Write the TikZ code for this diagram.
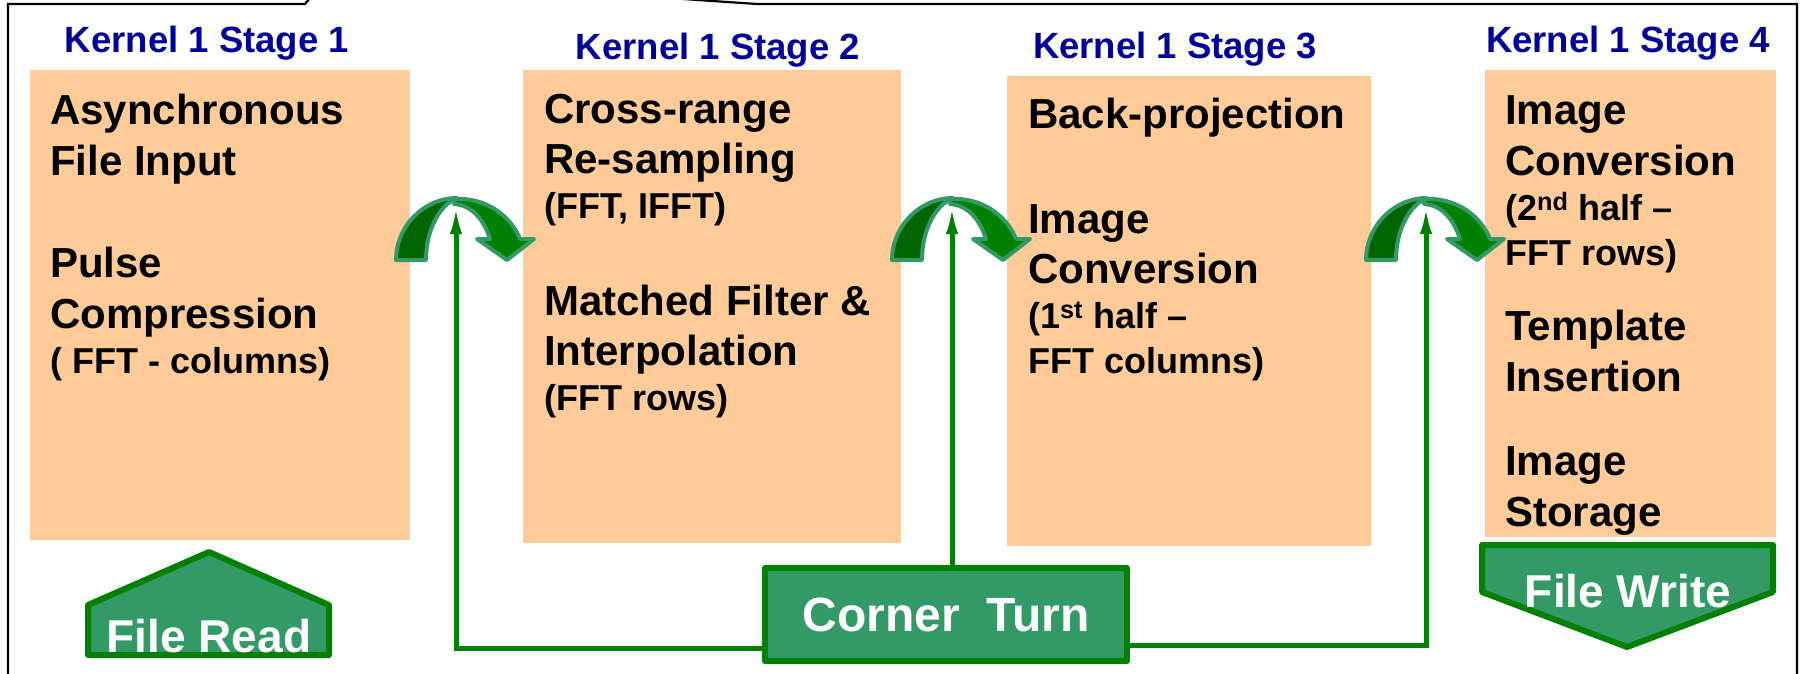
\documentclass[tikz,border=0pt]{standalone}
\usepackage{fontspec}
\setmainfont{Liberation Sans}
\usetikzlibrary{arrows.meta, positioning}

\definecolor{peach}{RGB}{255,204,153}
\definecolor{kblue}{RGB}{0,0,153}
\definecolor{ctgreen}{RGB}{51,153,102}
\definecolor{lgreen}{RGB}{0,128,0}
\definecolor{dgreen}{RGB}{0,100,0}

\tikzset{
x=1pt, y=-1pt,
frame/.style={draw=black, line width=2.2pt},
stagebox/.style={fill=peach, anchor=north west, inner sep=0pt},
stagetitle/.style={anchor=base, inner sep=0pt, text=kblue,
        font=\fontsize{36.5}{40}\selectfont\bfseries},
bigline/.style={anchor=base west, inner sep=0pt,
        font=\fontsize{42}{50}\selectfont\bfseries},
subline/.style={anchor=base west, inner sep=0pt,
        font=\fontsize{36}{44}\selectfont\bfseries},
ioshape/.style={fill=ctgreen, draw=lgreen, line width=6pt, line join=round},
iotext/.style={anchor=base, inner sep=0pt, text=white,
        font=\fontsize{46}{50}\selectfont\bfseries},
feed/.style={draw=lgreen, line width=5pt, -{Latex[length=30pt, width=12pt]}},
bendback/.style={fill=dgreen, draw=ctgreen, line width=4pt, line join=round},
bendfront/.style={fill=lgreen, draw=ctgreen, line width=4pt, line join=round},
bendarrow/.pic={
        \filldraw[bendback] (-60,62) .. controls (-60,28) and (-32,0) .. (1,0)
                .. controls (-15,6) and (-30,30) .. (-30,62) -- cycle;
        \filldraw[bendfront] (-2,1) .. controls (30,-1) and (55,18) .. (64,41)
                -- (78,41) -- (51,62) -- (21,41) -- (34,41)
                .. controls (28,22) and (16,7) .. (-2,6) -- cycle;
},
}

\begin{document}
\begin{tikzpicture}
    \useasboundingbox (0,0) rectangle (1802,673);
    \clip (0,0) rectangle (1802,673);

    % callout frame, open to the top and bottom
    \draw[frame] (8,700) -- (8,4) -- (305,4) -- (329,-25) -- (757,4) -- (1797,4) -- (1797,700);

    % Stage boxes
    \node[stagebox, minimum width=380pt, minimum height=470pt] (s1) at (30,70) {};
    \node[stagebox, minimum width=378pt, minimum height=473pt] (s2) at (523,70) {};
    \node[stagebox, minimum width=364pt, minimum height=470pt] (s3) at (1007,76) {};
    \node[stagebox, minimum width=291pt, minimum height=467pt] (s4) at (1485,70) {};

    \node[stagetitle] (k1) at (207,52) {Kernel 1 Stage 1};
    \node[stagetitle] (k2) at (718,59) {Kernel 1 Stage 2};
    \node[stagetitle] (k3) at (1175,58) {Kernel 1 Stage 3};
    \node[stagetitle] (k4) at (1628,52) {Kernel 1 Stage 4};

    % Stage 1
    \node[bigline] (s1a) at (50,124) {Asynchronous};
    \node[bigline] (s1b) at (50,175) {File Input};
    \node[bigline] (s1c) at (50,277) {Pulse};
    \node[bigline] (s1d) at (50,328) {Compression};
    \node[subline] (s1e) at (50,373) {( FFT - columns)};

    % Stage 2
    \node[bigline] (s2a) at (544,123) {Cross-range};
    \node[bigline] (s2b) at (544,173) {Re-sampling};
    \node[subline] (s2c) at (544,218) {(FFT, IFFT)};
    \node[bigline] (s2d) at (544,315) {Matched Filter \&};
    \node[bigline] (s2e) at (544,365) {Interpolation};
    \node[subline] (s2f) at (544,410) {(FFT rows)};

    % Stage 3
    \node[bigline] (s3a) at (1028,128) {Back-projection};
    \node[bigline] (s3b) at (1028,233) {Image};
    \node[bigline] (s3c) at (1028,283) {Conversion};
    \node[subline] (s3d) at (1028,328) {(1\textsuperscript{st} half –};
    \node[subline] (s3e) at (1028,373) {FFT columns)};

    % Stage 4
    \node[bigline] (s4a) at (1505,124) {Image};
    \node[bigline] (s4b) at (1505,175) {Conversion};
    \node[subline] (s4c) at (1505,220) {(2\textsuperscript{nd} half –};
    \node[subline] (s4d) at (1505,265) {FFT rows)};
    \node[bigline] (s4e) at (1505,340) {Template};
    \node[bigline] (s4f) at (1505,391) {Insertion};
    \node[bigline] (s4g) at (1505,475) {Image};
    \node[bigline] (s4h) at (1505,526) {Storage};

    % bent arrows between the stages
    \pic (b1) at (456,198) {bendarrow};
    \pic (b2) at (952,198) {bendarrow};
    \pic (b3) at (1426,198) {bendarrow};
    \coordinate (tip1) at (456,204);
    \coordinate (tip2) at (952,204);
    \coordinate (tip3) at (1426,204);

    % Corner turn feeds every stage change
    \node[ioshape, text=white, font=\fontsize{48}{50}\selectfont\bfseries,
          minimum width=362pt, minimum height=93pt] (ct) at (946,614.5) {Corner~ Turn};
    \draw[feed] ([yshift=-34pt]ct.west) -| (tip1);
    \draw[feed] ([yshift=-31pt]ct.east) -| (tip3);
    \draw[feed] (tip2 |- ct.north) -- (tip2);

    % File read and write
    \filldraw[ioshape] (88,655) -- (88,605) -- (209,552) -- (329,605) -- (329,655) -- cycle;
    \node[iotext] (rd) at (209,652) {File Read};
    \filldraw[ioshape] (1482,545) -- (1773,545) -- (1773,592) -- (1627,647) -- (1482,592) -- cycle;
    \node[iotext] (wr) at (1628,607) {File Write};
\end{tikzpicture}
\end{document}
